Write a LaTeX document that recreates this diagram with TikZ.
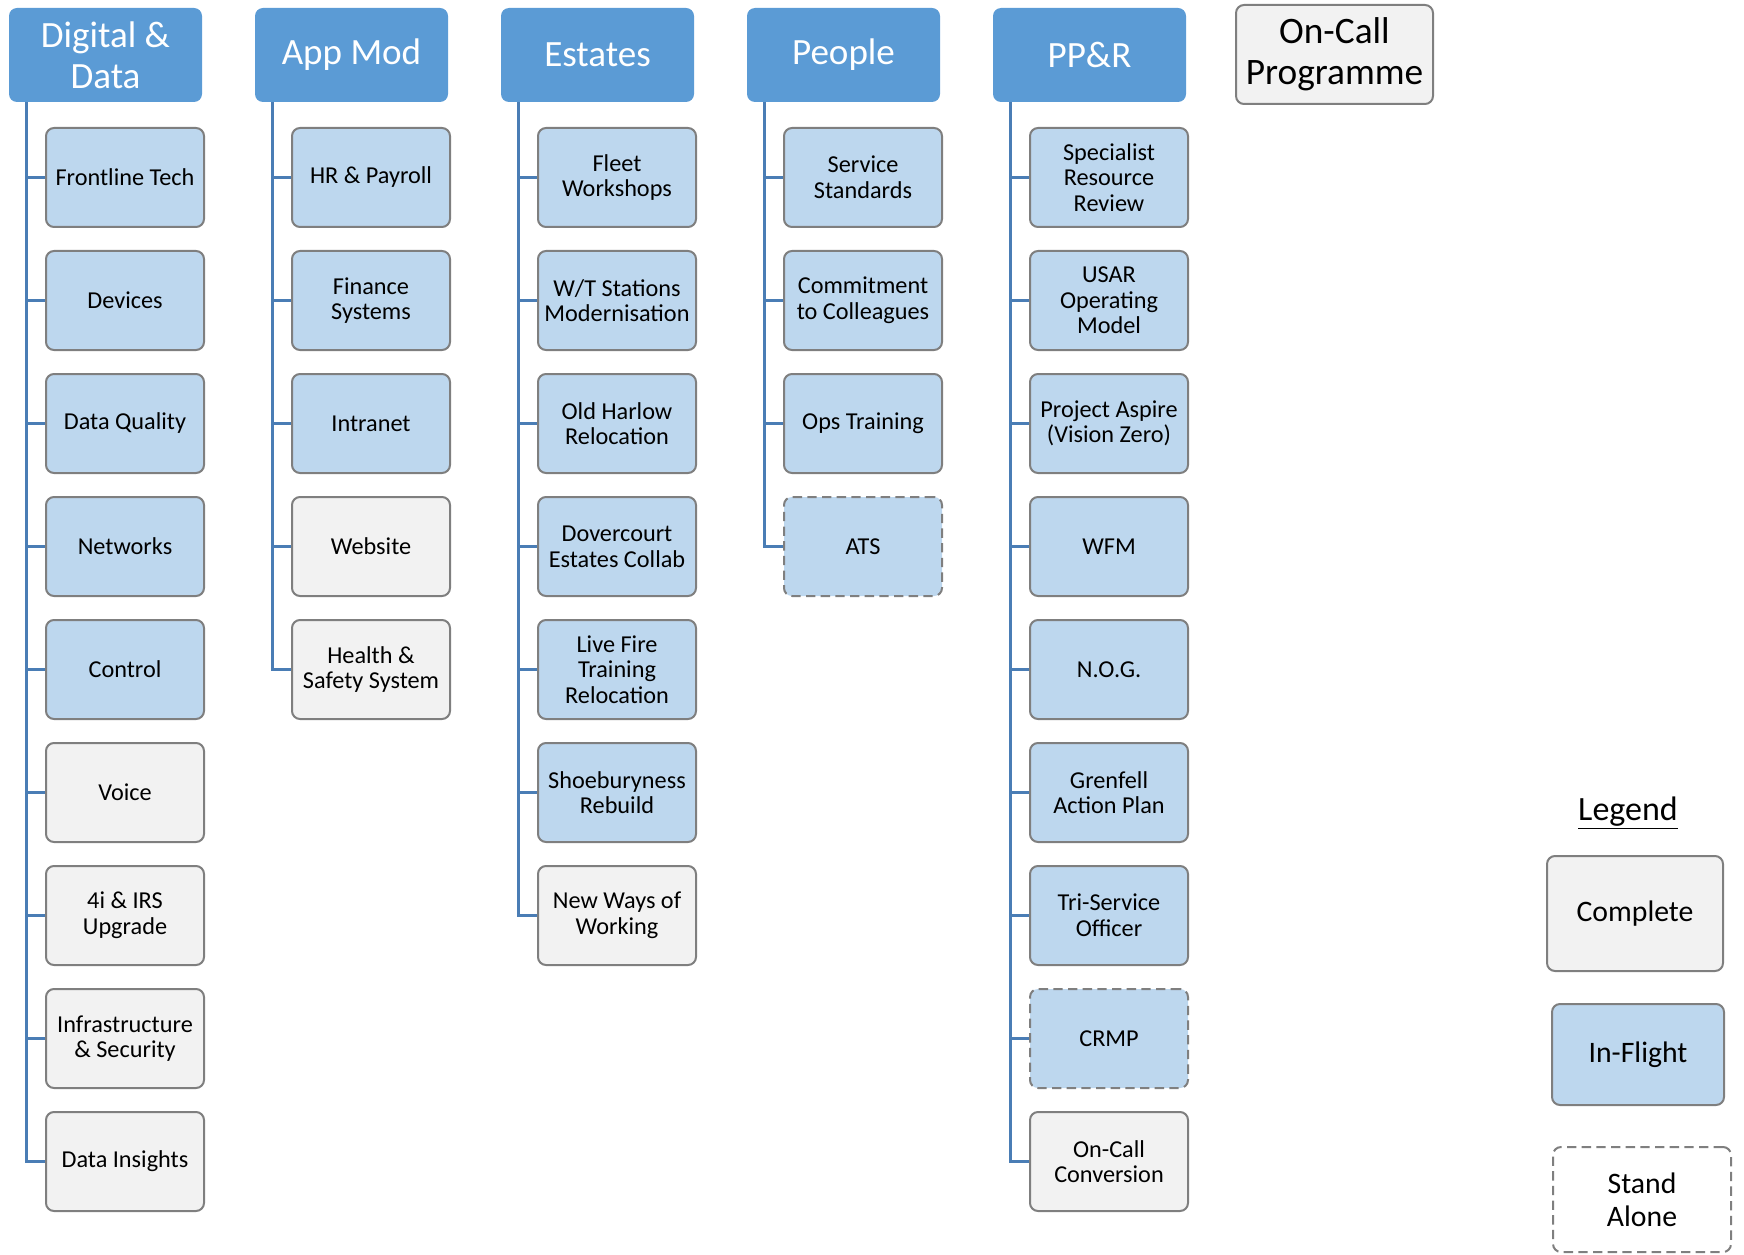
\documentclass[tikz,border=0pt]{standalone}
\usepackage{fontspec}
\setmainfont{Carlito}
\usetikzlibrary{backgrounds}
\definecolor{headblue}{HTML}{5B9BD5}
\definecolor{connblue}{HTML}{4A7DB5}
\definecolor{boxgray}{HTML}{7F7F7F}
\definecolor{flightblue}{HTML}{BDD7EE}
\definecolor{donegray}{HTML}{F2F2F2}
\tikzset{
  head/.style={fill=headblue, rounded corners=6pt, minimum width=144.75pt,
    minimum height=70.5pt, text=white, align=center, inner sep=0pt,
    font=\fontsize{27.8}{30.75}\selectfont},
  item/.style={draw=boxgray, line width=1.5pt, rounded corners=6pt,
    minimum width=118.5pt, minimum height=74.25pt, align=center, inner sep=0pt,
    font=\fontsize{18.2}{19.2}\selectfont},
  inflight/.style={item, fill=flightblue},
  complete/.style={item, fill=donegray},
  alone/.style={dash pattern=on 7pt off 4pt},
  conn/.style={draw=connblue, line width=2pt},
  legendtext/.style={font=\fontsize{22.3}{25}\selectfont},
}
\begin{document}
\begin{tikzpicture}[x=0.75pt,y=-0.75pt]
\useasboundingbox (0,0) rectangle (1744,1255);

% column headers
\node[head] (h1) at (105.5,55) {Digital \&\\Data};
\node[head] (h2) at (351.5,55) {App Mod};
\node[head] (h3) at (597.5,55) {Estates};
\node[head] (h4) at (843.5,55) {People};
\node[head] (h5) at (1089.5,55) {PP\&R};
\node[complete, minimum width=147.75pt, font=\fontsize{28}{30.75}\selectfont]
  (oncall) at (1334.5,54.5) {On-Call\\Programme};

% Digital & Data
\node[inflight] (b1-1) at (125,177.5) {Frontline Tech};
\node[inflight] (b1-2) at (125,300.5) {Devices};
\node[inflight] (b1-3) at (125,423.5) {Data Quality};
\node[inflight] (b1-4) at (125,546.5) {Networks};
\node[inflight] (b1-5) at (125,669.5) {Control};
\node[complete] (b1-6) at (125,792.5) {Voice};
\node[complete] (b1-7) at (125,915.5) {4i \& IRS\\Upgrade};
\node[complete] (b1-8) at (125,1038.5) {Infrastructure\\\& Security};
\node[complete] (b1-9) at (125,1161.5) {Data Insights};

% App Mod
\node[inflight] (b2-1) at (371,177.5) {HR \& Payroll\vphantom{g}};
\node[inflight] (b2-2) at (371,300.5) {Finance\\Systems};
\node[inflight] (b2-3) at (371,423.5) {Intranet};
\node[complete] (b2-4) at (371,546.5) {Website};
\node[complete] (b2-5) at (371,669.5) {Health \&\\Safety System};

% Estates
\node[inflight] (b3-1) at (617,177.5) {Fleet\\Workshops};
\node[inflight] (b3-2) at (617,300.5) {W/T Stations\\Modernisation};
\node[inflight] (b3-3) at (617,423.5) {Old Harlow\\Relocation};
\node[inflight] (b3-4) at (617,546.5) {Dovercourt\\Estates Collab};
\node[inflight] (b3-5) at (617,669.5) {Live Fire\\Training\\Relocation};
\node[inflight] (b3-6) at (617,792.5) {Shoeburyness\\Rebuild};
\node[complete] (b3-7) at (617,915.5) {New Ways of\\Working};

% People
\node[inflight] (b4-1) at (863,177.5) {Service\\Standards};
\node[inflight] (b4-2) at (863,300.5) {Commitment\\to Colleagues};
\node[inflight] (b4-3) at (863,423.5) {Ops Training};
\node[inflight, alone] (b4-4) at (863,546.5) {ATS};

% PP&R
\node[inflight] (b5-1) at (1109,177.5) {Specialist\\Resource\\Review};
\node[inflight] (b5-2) at (1109,300.5) {USAR\\Operating\\Model};
\node[inflight] (b5-3) at (1109,423.5) {Project Aspire\\(Vision Zero)};
\node[inflight] (b5-4) at (1109,546.5) {WFM};
\node[inflight] (b5-5) at (1109,669.5) {N.O.G.};
\node[inflight] (b5-6) at (1109,792.5) {Grenfell\\Action Plan};
\node[inflight] (b5-7) at (1109,915.5) {Tri-Service\\Officer};
\node[inflight, alone] (b5-8) at (1109,1038.5) {CRMP};
\node[complete] (b5-9) at (1109,1161.5) {On-Call\\Conversion};

% legend
\node[font=\fontsize{25.5}{28}\selectfont] (lgtitle) at (1628,813) {\underline{Legend}};
\node[complete, legendtext, minimum width=132pt, minimum height=86.25pt]
  (lg1) at (1635,913.5) {Complete};
\node[inflight, legendtext, minimum width=129pt, minimum height=75.75pt]
  (lg2) at (1638,1054.5) {In-Flight};
\node[item, alone, legendtext, fill=white, minimum width=133.5pt,
  minimum height=78.75pt] (lg3) at (1642,1199.5) {Stand\\Alone};

% trunks and branches
\begin{scope}[on background layer]
\foreach \c/\n in {1/9,2/5,3/7,4/4,5/9} {
  \coordinate (t\c) at ([xshift=13.5pt]h\c.south west);
  \draw[conn] (t\c) |- (b\c-\n.west);
  \foreach \r in {1,...,\n}
    \draw[conn] (b\c-\r.west) -- (b\c-\r.west -| t\c);
}
\end{scope}
\end{tikzpicture}
\end{document}
